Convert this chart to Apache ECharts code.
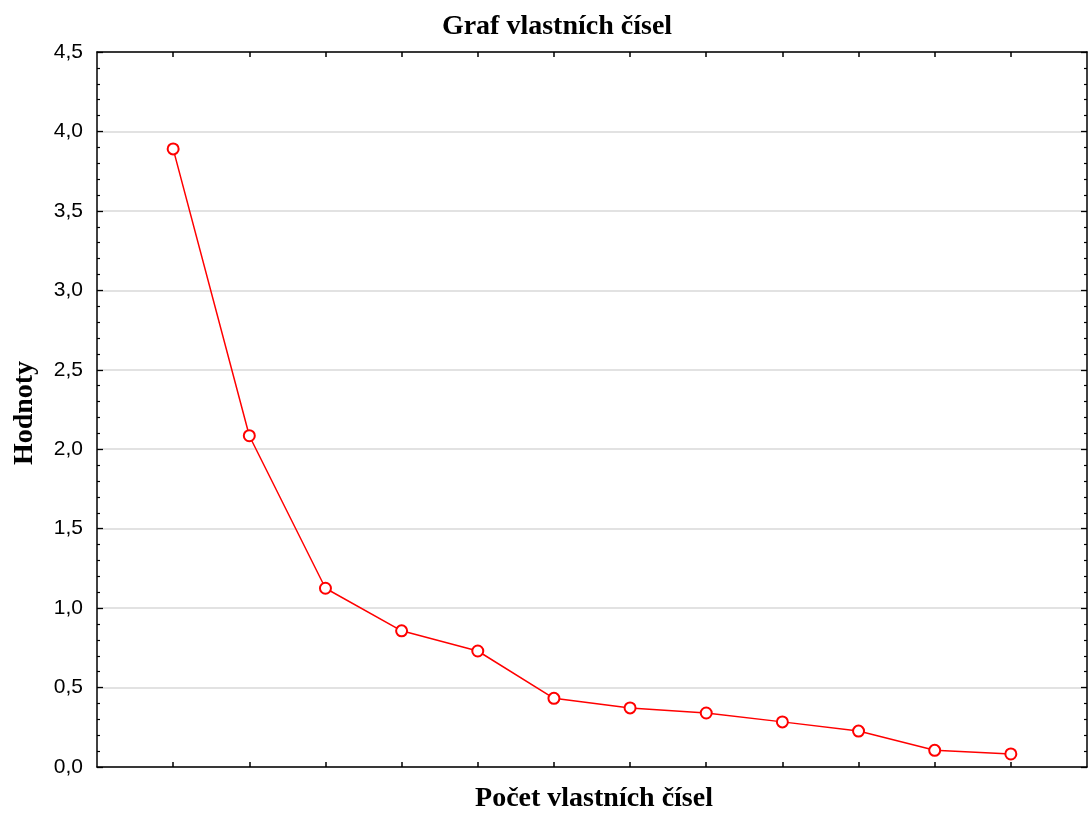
<!DOCTYPE html>
<html><head><meta charset="utf-8">
<script src="https://cdn.jsdelivr.net/npm/echarts@6/dist/echarts.min.js"></script>
<style>html,body{margin:0;padding:0;background:#fff}#c{width:1090px;height:814px}</style>
</head><body><div id="c"></div>
<script>
const categories = [1,2,3,4,5,6,7,8,9,10,11,12];
const values = [3.89, 2.085, 1.125, 0.857, 0.73, 0.432, 0.372, 0.34, 0.284, 0.226, 0.105, 0.082];
const yTicks = [0,0.5,1,1.5,2,2.5,3,3.5,4,4.5];
const chart = echarts.init(document.getElementById('c'));
const axisLine = {show:true, onZero:false, lineStyle:{color:'#000', width:1.5}};
const xCommon = {
  type:'value', min:0, max:13, interval:1,
  axisLine, axisLabel:{show:false}, splitLine:{show:false},
  axisTick:{show:true, inside:true, length:5, lineStyle:{color:'#000', width:1.5},
    customValues: categories}
};
const yCommon = {
  type:'value', min:0, max:4.5, interval:0.5,
  axisLine,
  axisTick:{show:true, inside:true, length:6, lineStyle:{color:'#000', width:1.3}},
  minorTick:{show:true, splitNumber:5, length:3, lineStyle:{color:'#000', width:1.2}}
};
chart.setOption({
  animation:false,
  title:{text:'Graf vlastních čísel', left:552, top:8, textAlign:'center',
    textStyle:{fontFamily:'Liberation Serif', fontWeight:'bold', fontSize:28, color:'#000'}},
  grid:{left:97, right:3, top:52, bottom:47},
  xAxis:[
    Object.assign({position:'bottom'}, xCommon),
    Object.assign({position:'top'}, xCommon)
  ],
  yAxis:[
    Object.assign({position:'left',
      axisLabel:{show:true, margin:14, fontFamily:'Liberation Sans', fontSize:21, color:'#000',
        formatter:v=>v.toFixed(1).replace('.',',')},
      splitLine:{show:true, lineStyle:{color:'#d9d9d9', width:1.5}}}, yCommon),
    Object.assign({position:'right', axisLabel:{show:false}, splitLine:{show:false}}, yCommon)
  ],
  graphic:[
    {type:'text', style:{text:'Počet vlastních čísel', x:594, y:799,
      align:'center', verticalAlign:'middle', fontFamily:'Liberation Serif', fontWeight:'bold',
      fontSize:28, fill:'#000'}},
    {type:'text', rotation:Math.PI/2, x:25, y:413, style:{text:'Hodnoty', x:0, y:0,
      align:'center', verticalAlign:'middle', fontFamily:'Liberation Serif', fontWeight:'bold',
      fontSize:28, fill:'#000'}}
  ],
  series:[{
    type:'line', data: categories.map((c,i)=>[c, values[i]]),
    symbol:'emptyCircle', symbolSize:11,
    lineStyle:{color:'#ff0000', width:1.5},
    itemStyle:{color:'#ff0000', borderColor:'#ff0000', borderWidth:1.5}
  }]
});
</script></body></html>
